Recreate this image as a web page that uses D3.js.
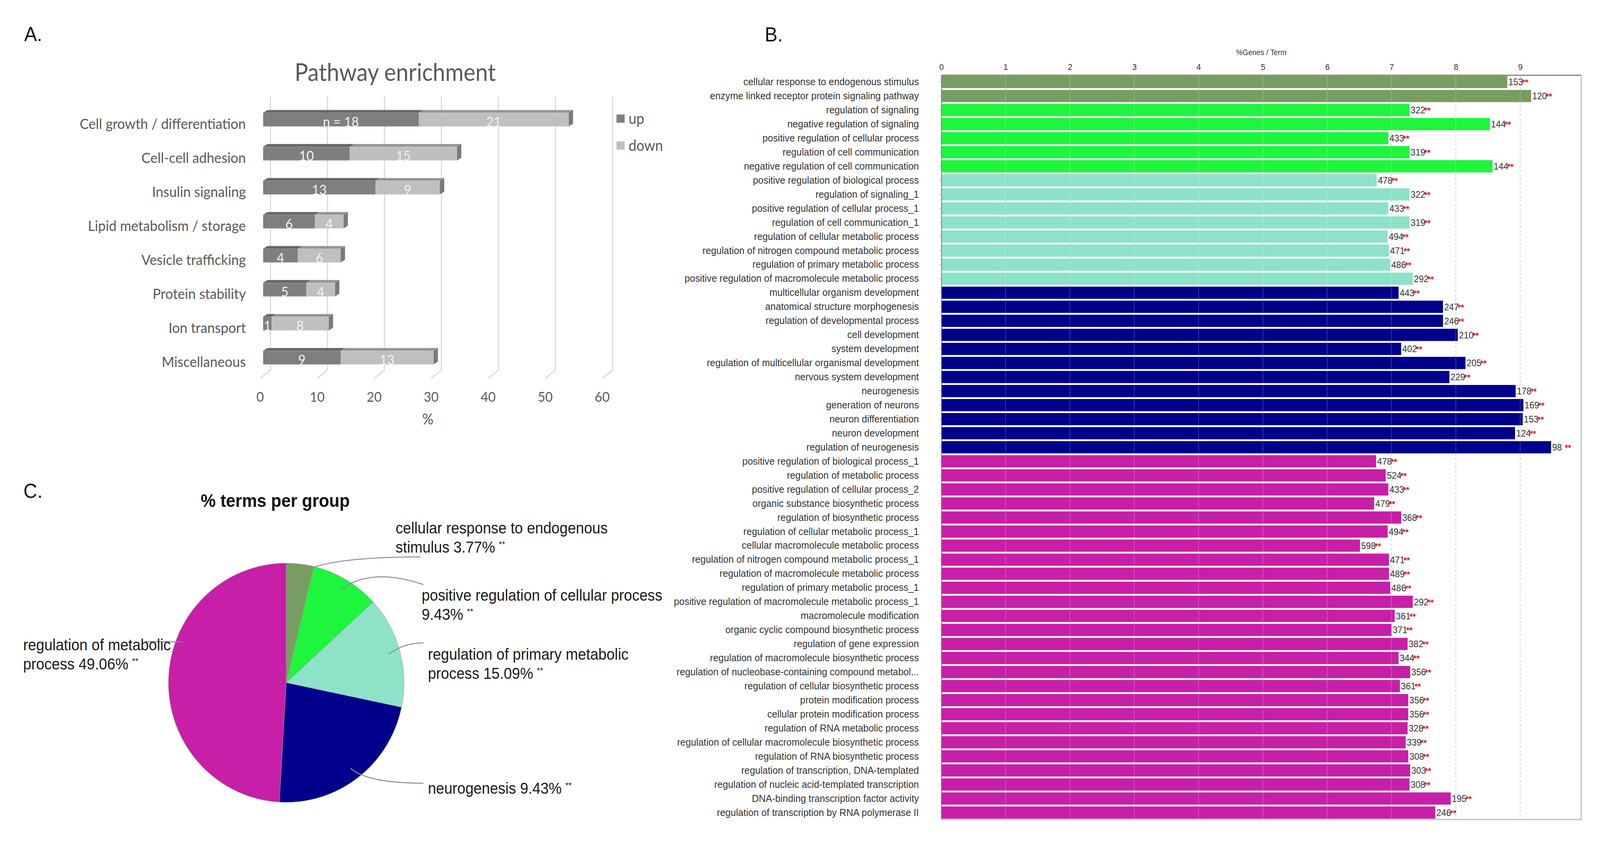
<!DOCTYPE html>
<html>
<head>
<meta charset="utf-8">
<script src="https://cdn.jsdelivr.net/npm/d3@7"></script>
<style>
  html, body { margin: 0; padding: 0; background: #fff; overflow: hidden; }
  svg { display: block; width: 100vw; height: 100vh; }
</style>
</head>
<body>
<svg id="fig" viewBox="0 0 4360 2152" preserveAspectRatio="none"></svg>
<script>
// ---------- Panel A data (pathway enrichment, % of up / down genes)
const pathwayCats = ["Cell growth / differentiation", "Cell-cell adhesion", "Insulin signaling",
  "Lipid metabolism / storage", "Vesicle trafficking", "Protein stability", "Ion transport", "Miscellaneous"];
const upPct = [27.3, 15.2, 19.7, 9.1, 6.1, 7.6, 1.5, 13.6];
const downPct = [26.3, 18.8, 11.3, 5.0, 7.5, 5.0, 10.0, 16.3];
const upLabels = ["n = 18", "10", "13", "6", "4", "5", "1", "9"];
const downLabels = ["21", "15", "9", "4", "6", "4", "8", "13"];
const pctTicks = [0, 10, 20, 30, 40, 50, 60];

// ---------- Panel B data (%Genes / Term)
const goTerms = [
  "cellular response to endogenous stimulus", "enzyme linked receptor protein signaling pathway",
  "regulation of signaling", "negative regulation of signaling", "positive regulation of cellular process",
  "regulation of cell communication", "negative regulation of cell communication",
  "positive regulation of biological process", "regulation of signaling_1", "positive regulation of cellular process_1",
  "regulation of cell communication_1", "regulation of cellular metabolic process",
  "regulation of nitrogen compound metabolic process", "regulation of primary metabolic process",
  "positive regulation of macromolecule metabolic process",
  "multicellular organism development", "anatomical structure morphogenesis", "regulation of developmental process",
  "cell development", "system development", "regulation of multicellular organismal development",
  "nervous system development", "neurogenesis", "generation of neurons", "neuron differentiation",
  "neuron development", "regulation of neurogenesis",
  "positive regulation of biological process_1", "regulation of metabolic process",
  "positive regulation of cellular process_2", "organic substance biosynthetic process",
  "regulation of biosynthetic process", "regulation of cellular metabolic process_1",
  "cellular macromolecule metabolic process", "regulation of nitrogen compound metabolic process_1",
  "regulation of macromolecule metabolic process", "regulation of primary metabolic process_1",
  "positive regulation of macromolecule metabolic process_1", "macromolecule modification",
  "organic cyclic compound biosynthetic process", "regulation of gene expression",
  "regulation of macromolecule biosynthetic process", "regulation of nucleobase-containing compound metabol...",
  "regulation of cellular biosynthetic process", "protein modification process",
  "cellular protein modification process", "regulation of RNA metabolic process",
  "regulation of cellular macromolecule biosynthetic process", "regulation of RNA biosynthetic process",
  "regulation of transcription, DNA-templated", "regulation of nucleic acid-templated transcription",
  "DNA-binding transcription factor activity", "regulation of transcription by RNA polymerase II"
];
const genePct = [
  8.80, 9.17,
  7.28, 8.53, 6.95, 7.28, 8.57,
  6.77, 7.28, 6.95, 7.28, 6.94, 6.96, 6.98, 7.33,
  7.11, 7.80, 7.80, 8.03, 7.15, 8.15, 7.90, 8.93, 9.05, 9.04, 8.92, 9.48,
  6.76, 6.91, 6.95, 6.73, 7.15, 6.94, 6.51, 6.96, 6.96, 6.98, 7.33, 7.05, 7.00,
  7.25, 7.11, 7.29, 7.13, 7.26, 7.26, 7.25, 7.22, 7.26, 7.29, 7.28, 7.92, 7.68
];
const geneCount = [
  153, 120,
  322, 144, 433, 319, 144,
  478, 322, 433, 319, 494, 471, 486, 292,
  443, 247, 246, 210, 402, 205, 229, 178, 169, 153, 124, 98,
  478, 524, 433, 479, 368, 494, 598, 471, 489, 486, 292, 361, 371,
  382, 344, 356, 361, 356, 356, 328, 339, 308, 303, 308, 195, 246
];
const termGroup = [
  "endo", "endo",
  "poscell", "poscell", "poscell", "poscell", "poscell",
  "primary", "primary", "primary", "primary", "primary", "primary", "primary", "primary",
  "neuro", "neuro", "neuro", "neuro", "neuro", "neuro", "neuro", "neuro", "neuro", "neuro", "neuro", "neuro",
  "metab", "metab", "metab", "metab", "metab", "metab", "metab", "metab", "metab", "metab", "metab", "metab", "metab",
  "metab", "metab", "metab", "metab", "metab", "metab", "metab", "metab", "metab", "metab", "metab", "metab", "metab"
];
const genePctTicks = [0, 1, 2, 3, 4, 5, 6, 7, 8, 9];

// ---------- Panel C data (% terms per group)
const pieGroups = ["endo", "poscell", "primary", "neuro", "metab"];
const piePct = [3.77, 9.43, 15.09, 22.64, 49.06];
const pieLabels = [
  ["cellular response to endogenous", "stimulus 3.77%"],
  ["positive regulation of cellular process", "9.43%"],
  ["regulation of primary metabolic", "process 15.09%"],
  ["neurogenesis 9.43%"],
  ["regulation of metabolic", "process 49.06%"]
];

const groupColor = d3.scaleOrdinal()
  .domain(pieGroups)
  .range(["#779e60", "#1ef53d", "#8de2c8", "#00008b", "#c71fa7"]);

const svg = d3.select("#fig");

// panel letters
svg.append("g")
  .attr("font-family", "'Liberation Sans', Arial, sans-serif")
  .attr("font-size", 52)
  .attr("fill", "#111")
  .selectAll("text")
  .data([["A.", 66, 105], ["B.", 2084, 106], ["C.", 64, 1274]])
  .join("text")
  .attr("x", d => d[1])
  .attr("y", d => d[2])
  .text(d => d[0]);


// =====================
// | A. Pathway enrichment (3D stacked bars)
// =====================
const gA = svg.append("g")
  .attr("font-family", "Lato, 'Open Sans', sans-serif")
  .attr("fill", "#595959");

const xA = d3.scaleLinear().domain([0, 60]).range([717, 1649]);
const yA = d3.scaleBand().domain(pathwayCats).range([262.5, 958.5]);
const barH = 35, depthX = 12, depthY = 7;   // 3D depth of bars
const wallDX = 20, wallTop = 247, floorBack = 947, floorFront = 968, frontDX = -8;

gA.append("text")
  .attr("x", 1077).attr("y", 207)
  .attr("text-anchor", "middle")
  .attr("font-size", 61)
  .text("Pathway enrichment");

// back wall gridlines + floor edges
gA.append("g").selectAll("line")
  .data(pctTicks)
  .join("line")
  .attr("x1", d => xA(d) + wallDX).attr("x2", d => xA(d) + wallDX)
  .attr("y1", wallTop).attr("y2", floorBack)
  .attr("stroke", "#d9d9d9").attr("stroke-width", 3);
gA.append("g").selectAll("line")
  .data(pctTicks)
  .join("line")
  .attr("x1", d => xA(d) + wallDX).attr("y1", floorBack)
  .attr("x2", d => xA(d) + frontDX).attr("y2", floorFront)
  .attr("stroke", "#d9d9d9").attr("stroke-width", 3);

// x tick labels and title
gA.append("g").selectAll("text")
  .data(pctTicks)
  .join("text")
  .attr("x", d => xA(d) + frontDX)
  .attr("y", 1028)
  .attr("text-anchor", "middle")
  .attr("font-size", 35)
  .text(d => d);
gA.append("text")
  .attr("x", 1166).attr("y", 1086)
  .attr("text-anchor", "middle")
  .attr("font-size", 38)
  .text("%");

const rowsA = pathwayCats.map((c, i) => ({
  c, up: upPct[i], down: downPct[i], upLab: upLabels[i], downLab: downLabels[i]
}));
const centerA = d => yA(d.c) + yA.bandwidth() / 2;

// category labels
gA.append("g").selectAll("text")
  .data(rowsA)
  .join("text")
  .attr("x", 670)
  .attr("y", d => centerA(d) + 11)
  .attr("dy", "0.35em")
  .attr("text-anchor", "end")
  .attr("font-size", 37)
  .text(d => d.c);

// parallelogram for the top face of a segment
const topFace = (a, b, y0) =>
  `M${a},${y0}L${a + depthX},${y0 - depthY}L${b + depthX},${y0 - depthY}L${b},${y0}Z`;

const barA = gA.append("g").selectAll("g")
  .data(rowsA)
  .join("g");

barA.append("path")
  .attr("d", d => topFace(xA(0), xA(d.up), centerA(d) - barH / 2))
  .attr("fill", "#666");
barA.append("path")
  .attr("d", d => topFace(xA(d.up), xA(d.up + d.down), centerA(d) - barH / 2))
  .attr("fill", "#959595");
barA.append("path")   // right side face
  .attr("d", d => {
    const e = xA(d.up + d.down), y0 = centerA(d) - barH / 2;
    return `M${e},${y0}L${e + depthX},${y0 - depthY}L${e + depthX},${y0 + barH - depthY}L${e},${y0 + barH}Z`;
  })
  .attr("fill", "#7a7a7a");
barA.append("rect")
  .attr("x", xA(0))
  .attr("y", d => centerA(d) - barH / 2)
  .attr("width", d => xA(d.up) - xA(0))
  .attr("height", barH)
  .attr("fill", "#7f7f7f");
barA.append("rect")
  .attr("x", d => xA(d.up))
  .attr("y", d => centerA(d) - barH / 2)
  .attr("width", d => xA(d.up + d.down) - xA(d.up))
  .attr("height", barH)
  .attr("fill", "#bfbfbf");

// counts in the bars
barA.append("text")
  .attr("x", d => xA(d.up / 2))
  .attr("y", d => centerA(d) + 6)
  .attr("dy", "0.35em")
  .attr("text-anchor", "middle")
  .attr("font-size", 35)
  .attr("fill", "#f2f2f2")
  .text(d => d.upLab);
barA.append("text")
  .attr("x", d => xA(d.up + d.down / 2))
  .attr("y", d => centerA(d) + 6)
  .attr("dy", "0.35em")
  .attr("text-anchor", "middle")
  .attr("font-size", 35)
  .attr("fill", "#f2f2f2")
  .text(d => d.downLab);

// legend
const legA = gA.append("g").selectAll("g")
  .data([["up", "#7f7f7f"], ["down", "#bfbfbf"]])
  .join("g")
  .attr("transform", (d, i) => `translate(1680,${293 + i * 69})`);
legA.append("rect").attr("width", 22).attr("height", 21).attr("fill", d => d[1]);
legA.append("text")
  .attr("x", 33).attr("y", 24)
  .attr("font-size", 38)
  .text(d => d[0]);


// =====================
// | B. %Genes / Term bars
// =====================
const gB = svg.append("g")
  .attr("font-family", "'Liberation Sans', Arial, sans-serif");

const xB = d3.scaleLinear().domain([0, 9.95]).range([2565, 4309]);
const yB = d3.scaleBand()
  .domain(d3.range(goTerms.length))
  .range([192, 2097])
  .paddingInner(0.13)
  .paddingOuter(0.06);

gB.append("text")
  .attr("x", 3437).attr("y", 141)
  .attr("text-anchor", "middle")
  .attr("font-size", 20)
  .attr("fill", "#333")
  .text("%Genes / Term");

// dashed gridlines
gB.append("g").selectAll("line")
  .data(genePctTicks.slice(1))
  .join("line")
  .attr("x1", d => xB(d)).attr("x2", d => xB(d))
  .attr("y1", 192).attr("y2", 2097)
  .attr("stroke", "#c4c4c4")
  .attr("stroke-width", 2)
  .attr("stroke-dasharray", "6,5");

const rowsB = goTerms.map((t, i) => ({
  i, t, v: genePct[i], n: geneCount[i], g: termGroup[i]
}));

gB.append("g").selectAll("rect")
  .data(rowsB)
  .join("rect")
  .attr("x", xB(0))
  .attr("y", d => yB(d.i))
  .attr("width", d => xB(d.v) - xB(0))
  .attr("height", yB.bandwidth())
  .attr("fill", d => groupColor(d.g));

// faint grid seen through the bars
gB.append("g").selectAll("line")
  .data(genePctTicks.slice(1))
  .join("line")
  .attr("x1", d => xB(d)).attr("x2", d => xB(d))
  .attr("y1", 192).attr("y2", 2097)
  .attr("stroke", "#fff")
  .attr("stroke-opacity", 0.22)
  .attr("stroke-width", 2);

// value labels: gene count + red stars
const valB = gB.append("g").selectAll("text")
  .data(rowsB)
  .join("text")
  .attr("x", d => xB(d.v) + 3)
  .attr("y", d => yB(d.i) + yB.bandwidth() / 2)
  .attr("dy", "0.36em")
  .attr("font-size", 24)
  .attr("fill", "#333");
valB.append("tspan").text(d => d.n);
valB.append("tspan")
  .attr("dx", d => (d.n < 100 ? 8 : -3))
  .attr("fill", "#e01010")
  .attr("font-size", 22)
  .attr("font-weight", "bold")
  .text("**");

// axes
const axisTopB = gB.append("g")
  .attr("transform", "translate(0,192)")
  .call(d3.axisTop(xB).tickValues(genePctTicks).tickSize(0).tickSizeOuter(0).tickPadding(13));
axisTopB.select(".domain").attr("stroke", "#888").attr("stroke-width", 3);
axisTopB.selectAll("text")
  .attr("font-size", 22)
  .attr("fill", "#333")
  .attr("font-family", "'Liberation Sans', Arial, sans-serif");

const axisLeftB = gB.append("g")
  .attr("transform", `translate(${xB(0)},0)`)
  .call(d3.axisLeft(yB).tickSize(6).tickSizeOuter(0).tickPadding(55).tickFormat(i => goTerms[i]));
axisLeftB.select(".domain").attr("stroke", "#777").attr("stroke-width", 2);
axisLeftB.selectAll(".tick line").attr("stroke", "#999");
axisLeftB.selectAll("text")
  .attr("font-size", 26)
  .attr("fill", "#333")
  .attr("font-family", "'Liberation Sans', Arial, sans-serif");

// frame right & bottom
gB.append("path")
  .attr("d", `M${xB(0)},2097H${xB(9.95)}V192`)
  .attr("fill", "none")
  .attr("stroke", "#bdbdbd")
  .attr("stroke-width", 3);


// =====================
// | C. % terms per group (pie)
// =====================
const gC = svg.append("g")
  .attr("font-family", "'Liberation Sans', Arial, sans-serif");

gC.append("text")
  .attr("x", 750).attr("y", 1297)
  .attr("text-anchor", "middle")
  .attr("font-size", 46)
  .attr("font-weight", "bold")
  .attr("fill", "#111")
  .text("% terms per group");

const pieCx = 780, pieCy = 1747, pieR = 306, pieSx = 1.049;
const arcs = d3.pie().sort(null).value(d => d)(piePct);
const arc = d3.arc().innerRadius(0).outerRadius(pieR);

gC.append("g")
  .attr("transform", `translate(${pieCx},${pieCy}) scale(${pieSx},1)`)
  .selectAll("path")
  .data(arcs)
  .join("path")
  .attr("d", arc)
  .attr("fill", (d, i) => groupColor(pieGroups[i]))
  .attr("stroke", "#9a9a9a")
  .attr("stroke-width", 1.2)
  .attr("stroke-opacity", 0.7);

// label layout: text anchor, leader fraction inside slice, control + end of leader
const pieLayout = [
  { tx: 1078, ty: 1365, t: 0.5, r: 0.9, c: [860, 1426], e: [1145, 1425] },
  { tx: 1149, ty: 1537, t: 0.5, r: 0.9, c: [1010, 1450], e: [1154, 1496] },
  { tx: 1166, ty: 1688, t: 0.5, r: 0.9, c: [1100, 1645], e: [1154, 1645] },
  { tx: 1166, ty: 2031, t: 0.5, r: 0.9, c: [1000, 2004], e: [1154, 2004] },
  { tx: 63, ty: 1664, t: 0.61, r: 0.95, c: [440, 1642], e: [396, 1642] }
];
const leaderStart = (a, L) => {
  const ang = a.startAngle + (a.endAngle - a.startAngle) * L.t;
  return [pieCx + pieSx * pieR * L.r * Math.sin(ang), pieCy - pieR * L.r * Math.cos(ang)];
};

gC.append("g").selectAll("path")
  .data(arcs)
  .join("path")
  .attr("d", (a, i) => {
    const L = pieLayout[i], s = leaderStart(a, L);
    return `M${s[0]},${s[1]}Q${L.c[0]},${L.c[1]} ${L.e[0]},${L.e[1]}`;
  })
  .attr("fill", "none")
  .attr("stroke", "#8c8c8c")
  .attr("stroke-width", 2.5);

const labC = gC.append("g").selectAll("g")
  .data(pieLabels)
  .join("g");
labC.each(function (lines, i) {
  const L = pieLayout[i];
  const g = d3.select(this);
  lines.forEach((ln, k) => {
    const t = g.append("text")
      .attr("x", L.tx)
      .attr("y", L.ty + k * 49)
      .attr("font-size", 40)
      .attr("fill", "#1a1a1a");
    t.append("tspan").text(ln);
    if (k === lines.length - 1) {
      t.append("tspan")
        .attr("dx", 10).attr("dy", -14)
        .attr("font-size", 22)
        .text("**");
    }
  });
});
</script>
</body>
</html>
